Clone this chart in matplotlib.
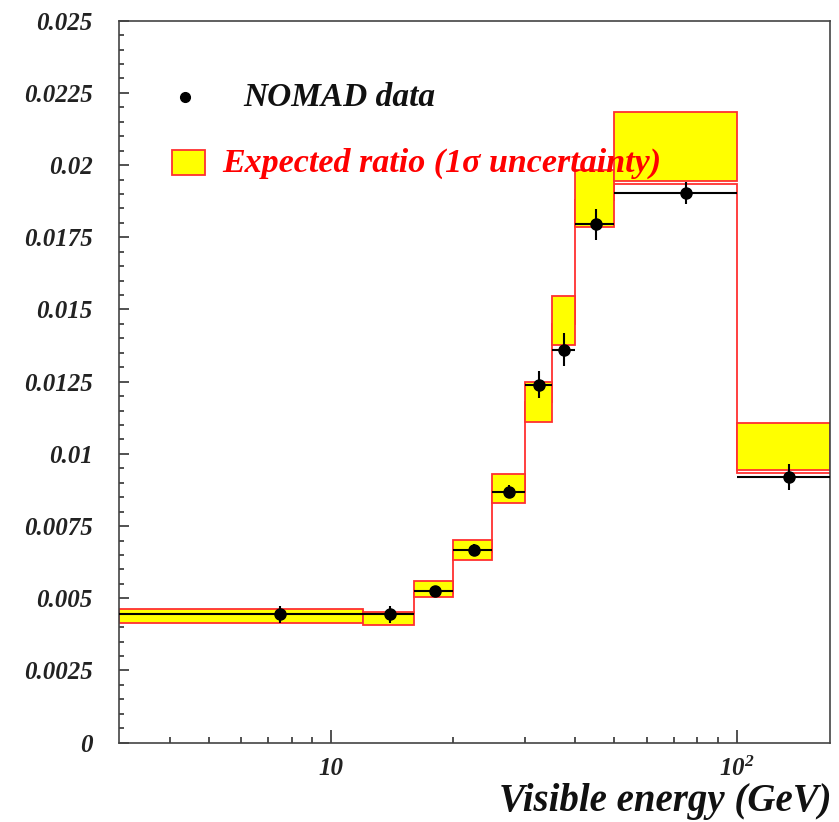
import matplotlib
matplotlib.use("Agg")
import matplotlib.pyplot as plt
from matplotlib.patches import Rectangle
from matplotlib.ticker import FixedLocator, NullFormatter
import numpy as np

plt.rcParams['font.family'] = ['Liberation Serif', 'DejaVu Serif']
plt.rcParams['font.weight'] = 'bold'
plt.rcParams['font.style'] = 'italic'
plt.rcParams['mathtext.fontset'] = 'custom'
plt.rcParams['mathtext.rm'] = 'Liberation Serif:italic:bold'
plt.rcParams['mathtext.it'] = 'Liberation Serif:italic:bold'
plt.rcParams['mathtext.bf'] = 'Liberation Serif:italic:bold'

# bin edges in visible energy (GeV)
edges = [3, 12, 16, 20, 25, 30, 35, 40, 50, 100, 170]
# expected ratio, 1 sigma band (low / high)
band_lo = [0.00414, 0.00408, 0.00503, 0.00632, 0.00829, 0.01111, 0.01377, 0.01787, 0.01946, 0.00944]
band_hi = [0.00463, 0.00453, 0.00561, 0.00703, 0.00929, 0.01250, 0.01548, 0.01983, 0.02185, 0.01106]
# red step histogram (expected)
expected = [0.00455, 0.00450, 0.00520, 0.00660, 0.00870, 0.01180, 0.01450, 0.01880, 0.01934, 0.00933]
# NOMAD data
data_val = [0.00445, 0.00445, 0.00525, 0.00667, 0.00869, 0.01240, 0.01360, 0.01795, 0.01903, 0.00921]
data_err = [0.00030, 0.00030, 0.00015, 0.00020, 0.00023, 0.00048, 0.00057, 0.00054, 0.00038, 0.00045]

y_ticks = [0, 0.0025, 0.005, 0.0075, 0.01, 0.0125, 0.015, 0.0175, 0.02, 0.0225, 0.025]
y_labels = ["0", "0.0025", "0.005", "0.0075", "0.01", "0.0125", "0.015", "0.0175", "0.02", "0.0225", "0.025"]

e = np.array(edges, dtype=float)
lo = np.array(band_lo)
hi = np.array(band_hi)
centers = 0.5 * (e[:-1] + e[1:])

fig = plt.figure(figsize=(8.39, 8.22), dpi=100)
ax = fig.add_axes([0.1418, 0.0965, 0.8475, 0.8783])
ax.set_xscale("log")

ax.stairs(expected, e, baseline=None, color="#ff3030", lw=1.3, zorder=1)
ax.bar(e[:-1], hi - lo, width=np.diff(e), bottom=lo, align="edge",
       color="#ffff00", edgecolor="#ff3030", linewidth=1.3, zorder=2)
ax.errorbar(centers, data_val, xerr=[centers - e[:-1], e[1:] - centers], yerr=data_err,
            fmt="o", color="black", ms=8, elinewidth=1.5, capsize=0, zorder=3)

ax.set_xlim(3, 170)
ax.set_ylim(0, 0.025)

ax.xaxis.set_major_locator(FixedLocator([10, 100]))
ax.set_xticklabels(["10", r"$10^{2}$"])
ax.xaxis.set_minor_locator(FixedLocator([4, 5, 6, 7, 8, 9, 20, 30, 40, 50, 60, 70, 80, 90]))
ax.xaxis.set_minor_formatter(NullFormatter())
ax.set_yticks(y_ticks)
ax.set_yticklabels(y_labels)
ax.yaxis.set_minor_locator(FixedLocator(np.arange(0, 0.02501, 0.0005)))

ax.tick_params(axis="both", which="both", direction="in", top=False, right=False,
               colors="#222222", width=1.1)
ax.tick_params(axis="x", which="major", length=9.5, pad=10, labelsize=18)
ax.tick_params(axis="x", which="minor", length=4.5)
ax.tick_params(axis="y", which="major", length=7, pad=19, labelsize=18)
ax.tick_params(axis="y", which="minor", length=3.5)
for s in ax.spines.values():
    s.set_linewidth(1.2)
    s.set_color("#444444")

# legend drawn by hand
ax.plot([0.0928], [0.8943], "o", color="black", ms=7, transform=ax.transAxes, zorder=5)
ax.text(0.1744, 0.8943, "NOMAD data", transform=ax.transAxes, fontsize=24,
        color="#111111", va="center", ha="left", zorder=5)
ax.add_patch(Rectangle((0.0745, 0.786), 0.0464, 0.0346, transform=ax.transAxes,
                       facecolor="#ffff00", edgecolor="#ff3030", lw=1.3, zorder=5))
ax.text(0.1449, 0.803, "Expected ratio (1\u03c3 uncertainty)", transform=ax.transAxes,
        fontsize=24.5, color="#ff0000", va="center", ha="left", zorder=5)

fig.text(832 / 839, 1 - 811 / 822, "Visible energy (GeV)", fontsize=28,
         color="#111111", ha="right", va="baseline")

fig.savefig("out.png", dpi=100)
